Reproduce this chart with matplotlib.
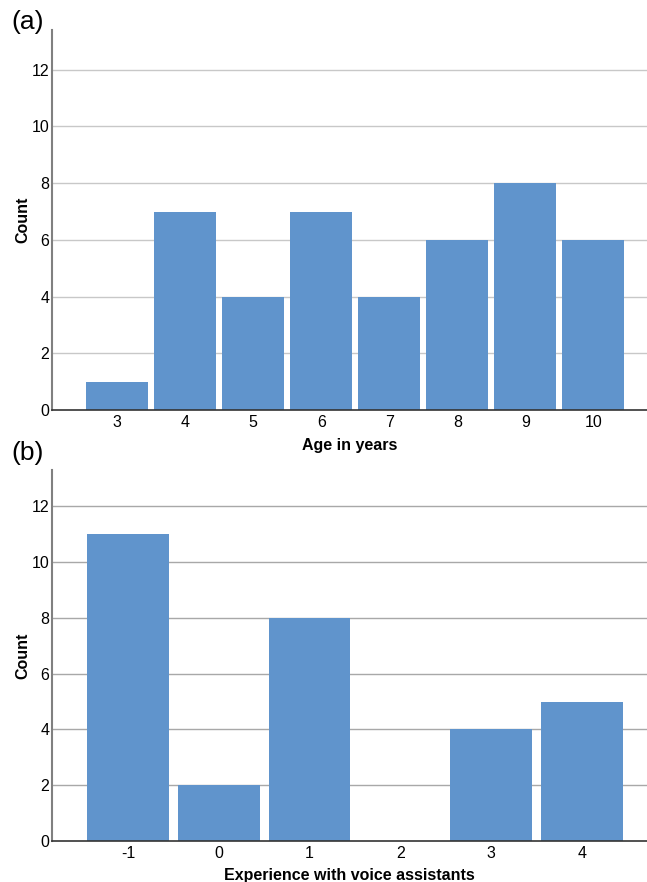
import matplotlib
matplotlib.use("Agg")
import matplotlib.pyplot as plt

plt.rcParams['font.family'] = ['Liberation Sans', 'DejaVu Sans']

age_labels = ["3", "4", "5", "6", "7", "8", "9", "10"]
age_values = [3, 4, 5, 6, 7, 8, 9, 10]
age_counts = [1, 7, 4, 7, 4, 6, 8, 6]

exp_labels = ["-1", "0", "1", "2", "3", "4"]
exp_values = [-1, 0, 1, 2, 3, 4]
exp_counts = [11, 2, 8, 0, 4, 5]

yticks = [0, 2, 4, 6, 8, 10, 12]
bar_color = "#6094CC"

fig = plt.figure(figsize=(6.47, 8.82), dpi=100)
ax1 = fig.add_axes([0.0804, 0.5351, 0.9196, 0.4309])
ax2 = fig.add_axes([0.0804, 0.0465, 0.9196, 0.4206])

def style(ax, values, counts, labels, xlim, ylim, width, grid_color, xlabel):
    ax.set_axisbelow(True)
    ax.bar(values, counts, width=width, color=bar_color, zorder=2)
    ax.set_xlim(*xlim)
    ax.set_ylim(*ylim)
    ax.set_yticks(yticks)
    ax.set_yticklabels([str(t) for t in yticks], fontsize=11.5)
    ax.set_xticks(values)
    ax.set_xticklabels(labels, fontsize=11.5)
    for t in yticks[1:]:
        ax.axhline(t, color=grid_color, lw=1.0, zorder=1)
    for s in ["top", "right"]:
        ax.spines[s].set_visible(False)
    ax.spines["left"].set_color("#808080")
    ax.spines["left"].set_linewidth(1.5)
    ax.spines["bottom"].set_color("#333333")
    ax.spines["bottom"].set_linewidth(1.2)
    ax.spines["bottom"].set_zorder(3)
    ax.tick_params(axis="both", length=0)
    ax.tick_params(axis="y", pad=2)
    ax.tick_params(axis="x", pad=3.5)
    ax.set_ylabel("Count", fontsize=11.5, fontweight="bold", labelpad=0.5)
    ax.set_xlabel(xlabel, fontsize=11.5, fontweight="bold", labelpad=5.5)

style(ax1, age_values, age_counts, age_labels, (2.04, 10.79), (0, 13.4), 0.91,
      "#c8c8c8", "Age in years")
style(ax2, exp_values, exp_counts, exp_labels, (-1.84, 4.72), (0, 13.3), 0.9,
      "#a8a8a8", "Experience with voice assistants")

fig.text(0.018, 0.989, "(a)", fontsize=19, va="top", ha="left")
fig.text(0.018, 0.5, "(b)", fontsize=19, va="top", ha="left")

fig.savefig("out.png", dpi=100)
